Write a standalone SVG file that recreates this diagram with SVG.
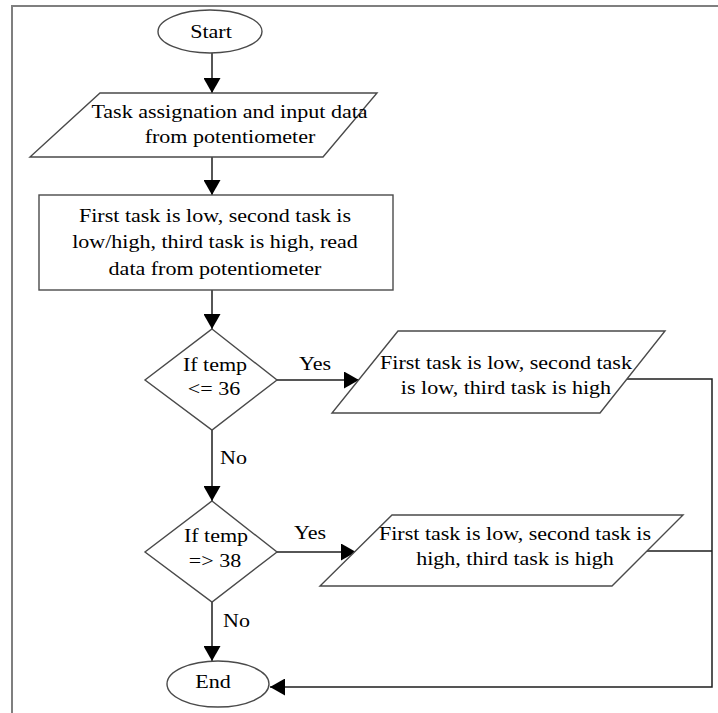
<svg xmlns="http://www.w3.org/2000/svg" width="718" height="713" viewBox="0 0 718 713">
<style>
.shape{fill:#ffffff;stroke:#4a4a4a;stroke-width:1.4}
.conn{fill:none;stroke:#1e1e1e;stroke-width:1.5}
.t{font-family:"Liberation Serif","Times New Roman",serif;font-size:19px;fill:#000000;text-anchor:middle}
.l{font-family:"Liberation Serif","Times New Roman",serif;font-size:19px;fill:#000000;text-anchor:start}
.frame{fill:none;stroke:#7f7f7f;stroke-width:2}
</style>
<defs>
<marker id="arrow" markerUnits="userSpaceOnUse" markerWidth="16" markerHeight="17" refX="15" refY="8.5" orient="auto">
<path d="M0,0 L15,8.5 L0,17 z" fill="#000000"/>
</marker>
</defs>
<rect width="718" height="713" fill="#ffffff"/>
<path class="frame" d="M12,713 L12,6 L718,6"/>

<g id="connectors">
<line class="conn" x1="212" y1="53" x2="212" y2="93" marker-end="url(#arrow)"/>
<line class="conn" x1="212" y1="157" x2="212" y2="195" marker-end="url(#arrow)"/>
<line class="conn" x1="212" y1="290" x2="212" y2="329" marker-end="url(#arrow)"/>
<line class="conn" x1="277" y1="380" x2="359" y2="380" marker-end="url(#arrow)"/>
<line class="conn" x1="212" y1="430" x2="212" y2="501" marker-end="url(#arrow)"/>
<line class="conn" x1="277" y1="552" x2="356" y2="552" marker-end="url(#arrow)"/>
<line class="conn" x1="212" y1="602" x2="212" y2="661" marker-end="url(#arrow)"/>
<polyline class="conn" points="627,379 712,379 712,687 270,687" marker-end="url(#arrow)"/>
<line class="conn" x1="647" y1="551" x2="712" y2="551"/>
<text class="t" transform="translate(315 0) scale(1.16 1)" x="0" y="370">Yes</text>
<text class="t" transform="translate(310 0) scale(1.16 1)" x="0" y="539">Yes</text>
<text class="l" transform="translate(220 0) scale(1.16 1)" x="0" y="464">No</text>
<text class="l" transform="translate(223 0) scale(1.16 1)" x="0" y="627">No</text>
</g>

<g id="start">
<ellipse class="shape" cx="210" cy="31.5" rx="52" ry="21.5"/>
<text class="t" transform="translate(211 0) scale(1.16 1)" x="0" y="38">Start</text>
</g>

<g id="input">
<polygon class="shape" points="100,93 377,93 323,157 30,157"/>
<text class="t" transform="translate(229.5 0) scale(1.16 1)" x="0" y="118">Task assignation and input data</text>
<text class="t" transform="translate(230 0) scale(1.16 1)" x="0" y="143">from potentiometer</text>
</g>

<g id="process">
<rect class="shape" x="39" y="195" width="354" height="95"/>
<text class="t" transform="translate(215 0) scale(1.16 1)" x="0" y="222">First task is low, second task is</text>
<text class="t" transform="translate(215 0) scale(1.16 1)" x="0" y="248">low/high, third task is high, read</text>
<text class="t" transform="translate(215 0) scale(1.16 1)" x="0" y="275">data from potentiometer</text>
</g>

<g id="decision1">
<polygon class="shape" points="212,329 277,380 212,430 145,380"/>
<text class="t" transform="translate(215 0) scale(1.16 1)" x="0" y="371">If temp</text>
<text class="t" transform="translate(214 0) scale(1.16 1)" x="0" y="395">&lt;= 36</text>
</g>

<g id="output1">
<polygon class="shape" points="398,331 665,331 600,413 332,413"/>
<text class="t" transform="translate(506 0) scale(1.16 1)" x="0" y="369">First task is low, second task</text>
<text class="t" transform="translate(506 0) scale(1.16 1)" x="0" y="394">is low, third task is high</text>
</g>

<g id="decision2">
<polygon class="shape" points="212,501 277,552 212,602 145,552"/>
<text class="t" transform="translate(216 0) scale(1.16 1)" x="0" y="542">If temp</text>
<text class="t" transform="translate(215 0) scale(1.16 1)" x="0" y="567">=&gt; 38</text>
</g>

<g id="output2">
<polygon class="shape" points="392,515 683,515 612,586 320,586"/>
<text class="t" transform="translate(515 0) scale(1.16 1)" x="0" y="540">First task is low, second task is</text>
<text class="t" transform="translate(515 0) scale(1.16 1)" x="0" y="565">high, third task is high</text>
</g>

<g id="end">
<ellipse class="shape" cx="218" cy="684" rx="51" ry="23"/>
<text class="t" transform="translate(213 0) scale(1.16 1)" x="0" y="688">End</text>
</g>
</svg>
